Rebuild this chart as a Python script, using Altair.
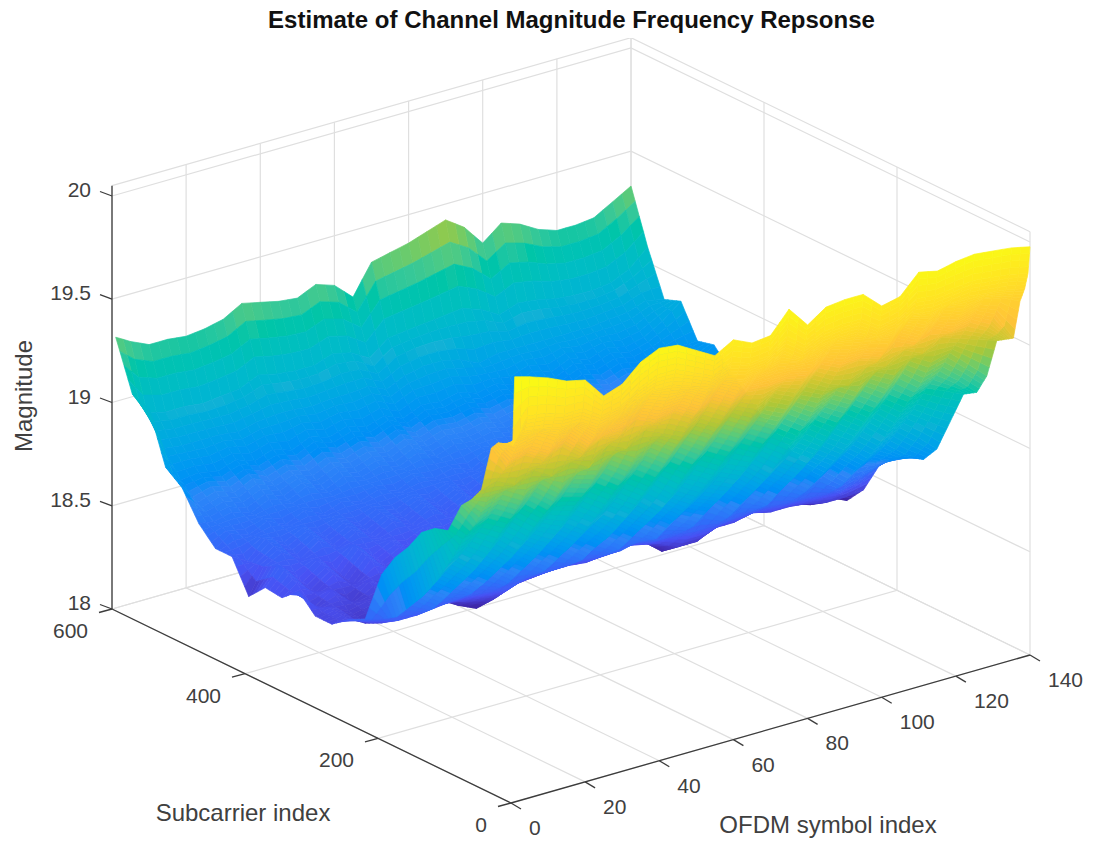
import altair as alt

TITLE = "Estimate of Channel Magnitude Frequency Repsonse"
X_LABEL = "OFDM symbol index"
Y_LABEL = "Subcarrier index"
Z_LABEL = "Magnitude"
X_TICKS = [0, 20, 40, 60, 80, 100, 120, 140]
Y_TICKS = [0, 200, 400, 600]
Z_TICKS = [18, 18.5, 19, 19.5, 20]
Z_TOP = 20.05
PARULA = ["#3E26A8", "#4852F4", "#2D87F7", "#12B1D6", "#37C897", "#ABC739", "#FEC338", "#F9FB15"]
# surface height at which each colour of the map was seen in the picture
COLOUR_AT = [.33, .45, .65, .90, 1.20, 1.38, 1.56, 1.98]

OFDM = [1, 5, 10, 15, 20, 25, 30, 35, 40, 45, 50, 55, 60, 65, 70, 75, 80, 85, 90, 95, 100, 105, 110, 115, 120, 125, 130, 135, 140]
SUB = [0, 3, 8, 15, 25, 35, 50, 65, 80, 100, 120, 140, 160, 180, 200, 225, 250, 275, 300, 325, 350, 375, 400, 425, 450, 475, 500, 525, 550, 575, 600]
# Height, one row per subcarrier, one value per OFDM column (above 18, in plot units)
H = [
[2.01,1.99,1.96,1.92,1.90,1.80,1.83,1.91,1.95,1.94,1.89,1.84,1.89,1.85,1.86,1.96,1.86,1.92,1.93,1.93,1.85,1.87,1.96,1.94,1.96,1.97,1.96,1.95,1.93],
[1.68,1.80,1.79,1.76,1.76,1.70,1.72,1.78,1.82,1.82,1.78,1.74,1.78,1.75,1.76,1.83,1.76,1.80,1.81,1.81,1.75,1.77,1.83,1.82,1.83,1.84,1.83,1.82,1.80],
[1.68,1.72,1.71,1.69,1.69,1.64,1.66,1.71,1.74,1.74,1.71,1.68,1.71,1.69,1.70,1.75,1.69,1.73,1.74,1.74,1.69,1.70,1.75,1.74,1.75,1.76,1.75,1.74,1.72],
[1.67,1.66,1.68,1.63,1.66,1.58,1.62,1.65,1.70,1.67,1.67,1.62,1.67,1.63,1.66,1.68,1.66,1.66,1.70,1.68,1.66,1.64,1.71,1.68,1.72,1.69,1.71,1.69,1.65],
[1.66,1.58,1.60,1.55,1.60,1.52,1.56,1.58,1.63,1.59,1.60,1.55,1.61,1.56,1.60,1.60,1.60,1.58,1.63,1.60,1.60,1.57,1.65,1.60,1.65,1.62,1.64,1.60,1.46],
[1.62,1.51,1.54,1.49,1.53,1.46,1.51,1.50,1.56,1.52,1.54,1.49,1.54,1.49,1.54,1.53,1.54,1.52,1.57,1.53,1.54,1.51,1.58,1.54,1.59,1.55,1.57,1.52,1.44],
[1.40,1.42,1.38,1.42,1.37,1.41,1.36,1.44,1.40,1.46,1.42,1.38,1.44,1.39,1.45,1.41,1.46,1.42,1.48,1.43,1.40,1.46,1.44,1.49,1.45,1.50,1.47,1.44,1.41],
[1.33,1.30,1.33,1.28,1.33,1.26,1.32,1.30,1.36,1.31,1.35,1.29,1.35,1.30,1.36,1.31,1.36,1.32,1.38,1.34,1.37,1.32,1.39,1.35,1.41,1.36,1.38,1.30,1.22],
[1.28,1.18,1.22,1.17,1.23,1.16,1.22,1.19,1.26,1.20,1.25,1.19,1.26,1.20,1.26,1.21,1.27,1.22,1.29,1.23,1.27,1.22,1.30,1.24,1.31,1.24,1.27,1.20,1.12],
[1.13,1.07,1.10,1.05,1.12,1.05,1.10,1.08,1.14,1.08,1.13,1.07,1.14,1.08,1.14,1.09,1.15,1.10,1.17,1.11,1.16,1.10,1.18,1.12,1.18,1.12,1.16,1.12,1.08],
[1.11,.93,.98,.92,1.00,.93,.99,.95,1.02,.96,1.01,.95,1.02,.95,1.02,.97,1.02,.98,1.05,.99,1.04,.98,1.06,1.00,1.06,.99,1.03,.97,.92],
[1.06,.81,.88,.81,.89,.82,.89,.84,.91,.85,.90,.84,.91,.84,.91,.86,.91,.87,.94,.87,.93,.87,.94,.88,.94,.87,.91,.84,.76],
[.96,.71,.78,.72,.79,.73,.80,.74,.81,.75,.81,.74,.81,.75,.82,.76,.81,.77,.84,.77,.83,.77,.84,.78,.83,.76,.80,.73,.68],
[.88,.63,.69,.63,.70,.64,.71,.65,.72,.66,.72,.66,.72,.66,.73,.67,.72,.68,.74,.68,.74,.68,.75,.68,.74,.67,.71,.67,.66],
[.77,.55,.60,.54,.61,.56,.62,.56,.63,.57,.63,.57,.63,.57,.63,.57,.63,.58,.65,.58,.64,.58,.65,.59,.64,.57,.63,.62,.63],
[.52,.50,.47,.47,.48,.49,.49,.48,.47,.50,.50,.50,.51,.50,.50,.52,.50,.50,.49,.49,.50,.51,.51,.50,.50,.49,.49,.52,.56],
[.48,.45,.42,.42,.42,.43,.42,.40,.38,.42,.43,.44,.44,.43,.44,.46,.44,.42,.38,.38,.42,.42,.44,.42,.42,.41,.39,.39,.40],
[.42,.43,.38,.39,.39,.39,.39,.34,.30,.39,.40,.41,.41,.40,.41,.45,.41,.39,.32,.33,.39,.39,.41,.38,.39,.37,.34,.35,.31],
[.42,.44,.40,.42,.40,.41,.40,.37,.34,.40,.41,.42,.41,.41,.42,.45,.42,.40,.35,.36,.40,.40,.42,.40,.40,.38,.36,.36,.33],
[.50,.40,.46,.38,.45,.40,.47,.39,.44,.38,.46,.40,.45,.41,.47,.43,.46,.40,.43,.37,.44,.41,.46,.40,.44,.39,.42,.38,.36],
[.43,.48,.41,.47,.40,.49,.42,.47,.41,.48,.42,.47,.44,.42,.48,.44,.47,.43,.45,.41,.47,.43,.48,.43,.47,.42,.45,.42,.40],
[.44,.52,.44,.50,.43,.52,.45,.49,.44,.50,.46,.50,.47,.44,.50,.47,.50,.46,.49,.45,.50,.46,.51,.46,.50,.45,.48,.46,.45],
[.36,.48,.52,.47,.53,.47,.52,.47,.52,.48,.53,.48,.53,.47,.53,.50,.53,.48,.52,.47,.53,.49,.54,.49,.53,.48,.51,.50,.50],
[.51,.47,.55,.51,.55,.50,.54,.50,.54,.51,.55,.51,.55,.50,.55,.53,.55,.51,.54,.50,.55,.52,.56,.52,.56,.52,.55,.56,.58],
[.51,.56,.53,.57,.53,.57,.53,.56,.54,.57,.54,.58,.55,.57,.54,.59,.55,.58,.54,.57,.55,.58,.56,.59,.56,.59,.57,.62,.65],
[.59,.58,.60,.57,.61,.58,.62,.58,.62,.59,.62,.59,.63,.59,.62,.61,.63,.60,.62,.59,.63,.60,.64,.61,.64,.62,.65,.68,.74],
[.72,.63,.66,.63,.67,.63,.66,.63,.67,.64,.67,.64,.68,.64,.67,.66,.68,.65,.67,.64,.68,.65,.69,.66,.69,.67,.70,.72,.72],
[.78,.70,.71,.69,.72,.69,.72,.69,.73,.70,.73,.70,.73,.69,.73,.72,.74,.71,.73,.70,.74,.71,.75,.72,.75,.73,.75,.80,.87],
[1.02,.81,.80,.80,.80,.79,.81,.82,.82,.81,.82,.82,.83,.79,.83,.85,.85,.83,.79,.81,.81,.81,.81,.81,.81,.82,.83,.86,.84],
[1.05,.94,.92,.92,.91,.92,.93,.97,.95,.94,.94,.97,.95,.90,.97,.98,.99,1.00,1.01,.98,.93,.96,.95,.93,.92,.92,.93,.97,1.05],
[1.28,1.24,1.20,1.20,1.19,1.20,1.22,1.27,1.25,1.23,1.22,1.26,1.23,1.15,1.29,1.31,1.33,1.36,1.39,1.33,1.23,1.30,1.27,1.22,1.19,1.19,1.20,1.25,1.30],
]

PAD_TOP = 30
SHADE_S, SHADE_T = 4, 2  # facets per cell, for smooth shading like MATLAB's "shading interp"


def proj(x, y, z):
    t, s = x / 140.0, y / 600.0
    px = 511 + 519 * t - 399 * s
    py = 803 - 148 * t - 194 * s - 206.5 * (z - 18)
    return [round(px - 8, 1), round(py - 8 - PAD_TOP, 1)]


def mag(h):
    return 18 + h * 211.5 / 206.5


def feat(kind, coords, **props):
    return {"type": "Feature", "geometry": {"type": kind, "coordinates": coords}, "properties": props}


def at(i, j, u, v):
    """Point of cell (i, j) at fraction u along OFDM, v along subcarrier."""
    x = OFDM[i] + (OFDM[i + 1] - OFDM[i]) * u
    y = SUB[j] + (SUB[j + 1] - SUB[j]) * v
    h = (H[j][i] * (1 - u) * (1 - v) + H[j][i + 1] * u * (1 - v)
         + H[j + 1][i] * (1 - u) * v + H[j + 1][i + 1] * u * v)
    return x, y, mag(h)


quads = []
for j in range(len(SUB) - 2, -1, -1):
    for i in range(len(OFDM) - 2, -1, -1):
        for b in range(SHADE_S - 1, -1, -1):
            for a in range(SHADE_T - 1, -1, -1):
                pts = [at(i, j, (a + da) / SHADE_T, (b + db) / SHADE_S) for da, db in [(0, 0), (1, 0), (1, 1), (0, 1)]]
                ring = [proj(*p) for p in pts]
                ring.append(ring[0])
                quads.append(feat("Polygon", [ring], m=round(sum(p[2] for p in pts) / 4, 3)))

grid = []
for x in X_TICKS:
    grid.append(feat("LineString", [proj(x, 0, 18), proj(x, 600, 18), proj(x, 600, Z_TOP)]))
for y in Y_TICKS:
    grid.append(feat("LineString", [proj(0, y, 18), proj(140, y, 18), proj(140, y, Z_TOP)]))
for z in Z_TICKS + [Z_TOP]:
    grid.append(feat("LineString", [proj(0, 600, z), proj(140, 600, z), proj(140, 0, z)]))

axes = [
    feat("LineString", [proj(0, 600, 18), proj(0, 600, Z_TOP)]),
    feat("LineString", [proj(0, 600, 18), proj(0, 0, 18)]),
    feat("LineString", [proj(0, 0, 18), proj(140, 0, 18)]),
]
for x in X_TICKS:
    a = proj(x, 0, 18)
    axes.append(feat("LineString", [a, [a[0] + 10, a[1] + 6]]))
for y in Y_TICKS:
    a = proj(0, y, 18)
    axes.append(feat("LineString", [a, [a[0] - 13, a[1] + 3.5]]))
for z in Z_TICKS:
    a = proj(0, 600, z)
    axes.append(feat("LineString", [a, [a[0] - 12, a[1] - 4.5]]))

x_labels, y_labels, z_labels = [], [], []
for x in X_TICKS:
    a = proj(x, 0, 18)
    x_labels.append({"lon": a[0] + 18, "lat": a[1] + 26, "t": str(x)})
for y in Y_TICKS:
    a = proj(0, y, 18)
    y_labels.append({"lon": a[0] - 24, "lat": a[1] + 23, "t": str(y)})
for z in Z_TICKS:
    a = proj(0, 600, z)
    z_labels.append({"lon": a[0] - 21, "lat": a[1] - 5, "t": f"{z:g}"})
names = [
    {"lon": 828 - 8, "lat": 826 - 8 - PAD_TOP, "t": X_LABEL},
    {"lon": 243 - 8, "lat": 814 - 8 - PAD_TOP, "t": Y_LABEL},
]

PRJ = dict(type="identity", scale=1, translate=[0, 0])
FONT = "Liberation Sans"
TXT = "#404040"
cs = alt.Scale(domain=[mag(h) for h in COLOUR_AT], range=PARULA, clamp=True)


def text_layer(rows, align, size, **kw):
    return (
        alt.Chart(alt.Data(values=rows))
        .mark_text(align=align, baseline="middle", font=FONT, fontSize=size, color=TXT, **kw)
        .encode(longitude="lon:Q", latitude="lat:Q", text="t:N")
        .project(**PRJ)
    )


grid_layer = alt.Chart(alt.Data(values=grid)).mark_geoshape(filled=False, stroke="#dfdfdf", strokeWidth=1.2).project(**PRJ)
surface = (
    alt.Chart(alt.Data(values=quads))
    .mark_geoshape(strokeWidth=0.7)
    .encode(
        color=alt.Color("properties.m:Q", scale=cs, legend=None),
        stroke=alt.Stroke("properties.m:Q", scale=cs, legend=None),
    )
    .project(**PRJ)
)
axes_layer = alt.Chart(alt.Data(values=axes)).mark_geoshape(filled=False, stroke="#3c3c3c", strokeWidth=1.3).project(**PRJ)

chart = alt.layer(
    grid_layer,
    surface,
    axes_layer,
    text_layer(x_labels, "left", 21),
    text_layer(y_labels, "right", 21),
    text_layer(z_labels, "right", 21),
    text_layer(names, "center", 24),
    text_layer([{"lon": 25 - 8, "lat": 396 - 8 - PAD_TOP, "t": Z_LABEL}], "center", 24, angle=270),
).properties(
    width=1083,
    height=803,
    padding={"left": 0, "top": PAD_TOP, "right": 0, "bottom": 0},
    autosize=alt.AutoSizeParams(type="none"),
    title=alt.TitleParams(TITLE, font=FONT, fontSize=24, fontWeight="bold", color="#111111", anchor="middle", dx=22, offset=5),
).configure_view(stroke=None)

chart.save("out.html", embed_options={"renderer": "svg", "actions": False})
